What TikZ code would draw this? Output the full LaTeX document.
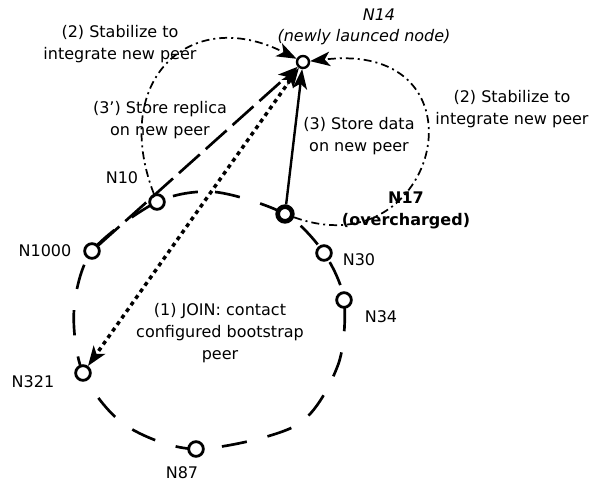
\documentclass[tikz,border=0pt]{standalone}
\usepackage{fontspec}
\setmainfont{DejaVu Sans}
\usepackage{tikz}
\usetikzlibrary{arrows.meta, backgrounds}
\tikzset{
  head/.tip={Stealth[length=15pt, width=11pt, inset=4pt, line width=0pt]},
  tip/.style={-head},
  peer/.style={circle, draw, fill=white, line width=2.1pt, minimum size=11pt, inner sep=0pt},
  ring/.style={line width=2pt, dash pattern=on 19pt off 16pt},
  stab/.style={tip, line width=1.3pt, dash pattern=on 6pt off 3pt on 1.5pt off 3pt},
  replica/.style={tip, line width=2pt, dash pattern=on 21pt off 6pt},
  joinline/.style={head-head, line width=2.6pt, dash pattern=on 3pt off 3pt},
}

\begin{document}
\begin{tikzpicture}[x=0.75pt, y=-0.75pt, font=\fontsize{12}{16.5}\selectfont]
        \useasboundingbox (0,0) rectangle (591,484);

        % Nodes
        \node[peer, minimum size=9pt, line width=1.8pt] (n14) at (303,62) {};
        \node[peer, line width=3.5pt] (n17) at (285,214) {};
        \node[peer] (n10) at (157,202) {};
        \node[peer] (n1000) at (92,251) {};
        \node[peer] (n30) at (324,253) {};
        \node[peer] (n34) at (344,300) {};
        \node[peer] (n321) at (83,373) {};
        \node[peer] (n87) at (196,449) {};

        % Labels
        \node (l14) at (379,15) {\itshape N14};
        \node (l14b) at (364,37) {\itshape (newly launced node)};
        \node[align=center] (l17) at (406,210) {\bfseries N17\\\bfseries (overcharged)};
        \node (l10) at (122,178) {N10};
        \node (l1000) at (45,251) {N1000};
        \node (l30) at (359,260) {N30};
        \node (l34) at (381,317) {N34};
        \node (l321) at (33,382) {N321};
        \node (l87) at (182,473) {N87};
        \node[align=center] (stabl) at (120,44) {(2) Stabilize to\\integrate new peer};
        \node[align=center] (stabr) at (512,109) {(2) Stabilize to\\integrate new peer};
        \node[align=center] (repl) at (160,120) {(3') Store replica\\on new peer};
        \node[align=center] (data) at (359,136) {(3) Store data\\on new peer};
        \node[align=center] (joinl) at (220,333) {(1) JOIN: contact\\configured bootstrap\\peer};

        % Ring and directed edges
        \begin{scope}[on background layer]
        \draw[ring] plot[smooth cycle] coordinates {(n10.center) (215,192) (n17.center)
            (n30.center) (n34.center) (338,365) (297,425) (n87.center) (125,425)
            (n321.center) (74,310) (n1000.center)};
        \end{scope}
        \draw[stab] (n10) .. controls (110,80) and (190,5) .. (n14);
        \draw[stab] (n17) .. controls (440,270) and (492,40) .. (n14);
        \draw[replica] (n1000) -- (n14);
        \draw[joinline] (n14) -- (n321);
        \draw[tip, line width=1.8pt] (n17) -- (n14);
    \end{tikzpicture}
\end{document}
